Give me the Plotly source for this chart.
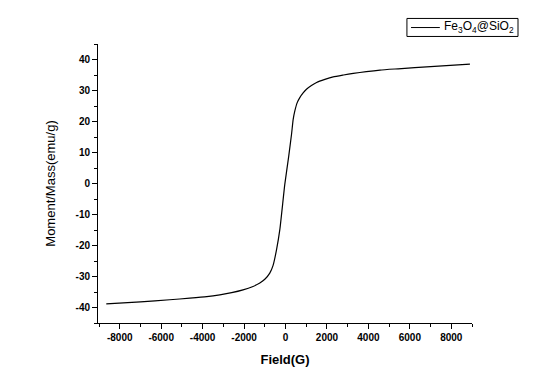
import plotly.graph_objects as go

field = [-8650, -7000, -5590, -4620, -3800, -3170, -2600, -2050, -1600, -1240, -1000, -760, -600,
         -435, -275, -35, 150, 290, 370, 450, 560, 690, 850, 1010, 1250, 1500, 1900, 2300, 2800,
         3270, 3900, 4560, 5440, 7000, 8900]
moment = [-38.8, -38.2, -37.5, -37.0, -36.5, -35.9, -35.2, -34.3, -33.3, -32.1, -30.9, -28.9, -26.4,
          -21.4, -14.9, -0.3, 8.6, 15.9, 20.7, 23.4, 26.0, 27.7, 29.2, 30.4, 31.6, 32.6, 33.6, 34.4, 35.0,
          35.5, 36.1, 36.6, 37.0, 37.7, 38.5]
x_ticks = [-8000, -6000, -4000, -2000, 0, 2000, 4000, 6000, 8000]
y_ticks = [-40, -30, -20, -10, 0, 10, 20, 30, 40]
series_name = "Fe<sub>3</sub>O<sub>4</sub>@SiO<sub>2</sub>"

fig = go.Figure()
fig.add_trace(go.Scatter(
    x=field, y=moment, mode="lines",
    line=dict(color="black", width=1.2, shape="spline", smoothing=0.5),
    name=series_name, showlegend=False,
))

# compact legend box (drawn manually to match the reference's tight frame)
fig.add_shape(type="rect", xref="paper", yref="paper",
              x0=0.826, x1=1.123, y0=1.027, y1=1.0916,
              line=dict(color="black", width=1), fillcolor="white")
fig.add_shape(type="line", xref="paper", yref="paper",
              x0=0.837, x1=0.914, y0=1.059, y1=1.059,
              line=dict(color="black", width=1))
fig.add_annotation(xref="paper", yref="paper", x=0.92, y=1.061,
                   xanchor="left", yanchor="middle", showarrow=False,
                   text=series_name,
                   font=dict(family="Arial, sans-serif", size=12, color="black"))

tickfont = dict(family="Arial, sans-serif", size=10, color="black")
fig.update_layout(
    width=541, height=380,
    margin=dict(l=90, r=77, t=36, b=65),
    paper_bgcolor="white", plot_bgcolor="white",
    showlegend=False,
    xaxis=dict(
        range=[-9050, 9000], tickvals=x_ticks, ticktext=["<b>%d</b>" % v for v in x_ticks],
        showgrid=False, zeroline=False, showline=True, linecolor="black", linewidth=1,
        ticks="outside", ticklen=5, tickcolor="black", tickfont=tickfont, automargin=False,
        minor=dict(dtick=1000, tick0=0, ticks="outside", ticklen=3, tickcolor="black"),
        title=dict(text="<b>Field(G)</b>", font=dict(family="Arial, sans-serif", size=13, color="black"), standoff=12),
    ),
    yaxis=dict(
        range=[-45, 45], tickvals=y_ticks, ticktext=["<b>%d</b>" % v for v in y_ticks],
        showgrid=False, zeroline=False, showline=True, linecolor="black", linewidth=1,
        ticks="outside", ticklen=5, tickcolor="black", tickfont=tickfont, automargin=False,
        minor=dict(dtick=5, tick0=0, ticks="outside", ticklen=3, tickcolor="black"),
        title=dict(text="Moment/Mass(emu/g)", font=dict(family="Arial, sans-serif", size=13, color="black"), standoff=16),
    ),
)

fig.write_html("out.html")
